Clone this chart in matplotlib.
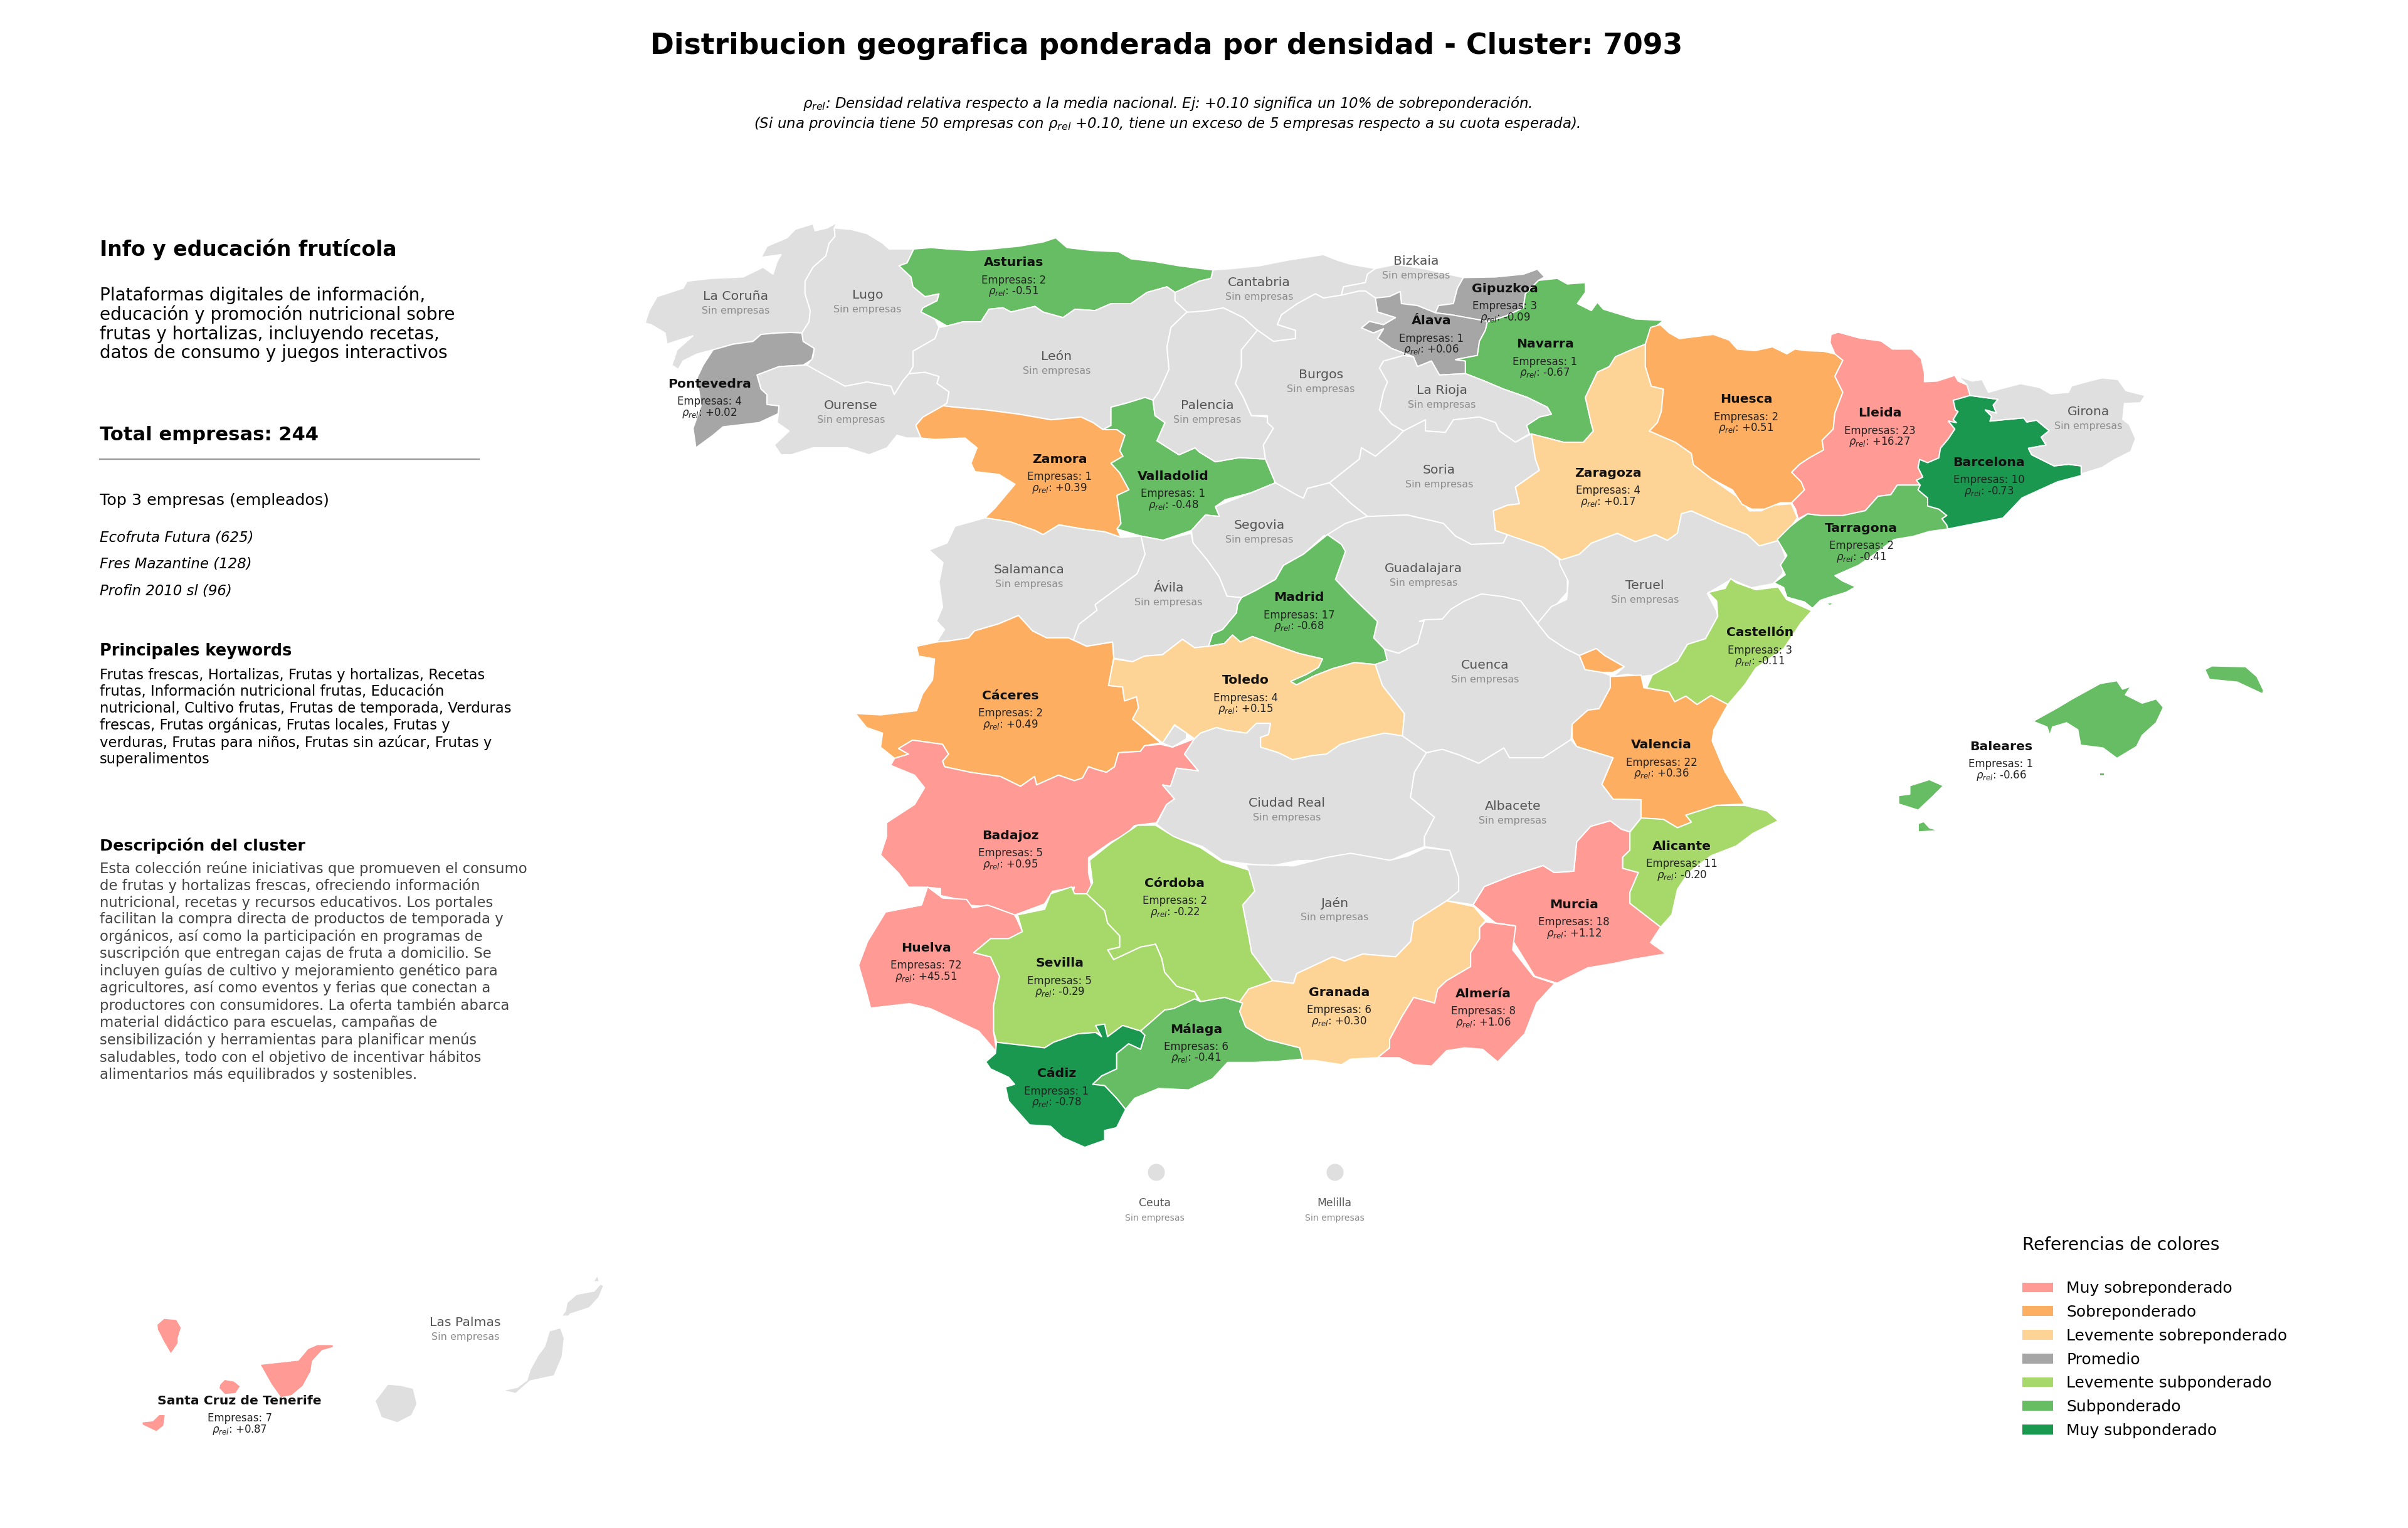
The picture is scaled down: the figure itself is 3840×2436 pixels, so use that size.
import matplotlib
matplotlib.use('Agg')
import matplotlib.pyplot as plt
from matplotlib.patches import Patch, Ellipse

plt.rcParams['font.family'] = ['DejaVu Sans']
plt.rcParams['mathtext.fontset'] = 'dejavusans'

TITLE = 'Distribucion geografica ponderada por densidad - Cluster: 7093'
SUBTITLE = (r'$\rho_{rel}$: Densidad relativa respecto a la media nacional. Ej: +0.10 significa un 10% de sobreponderación.' + '\n'
            r'(Si una provincia tiene 50 empresas con $\rho_{rel}$ +0.10, tiene un exceso de 5 empresas respecto a su cuota esperada).')

CATEGORY_LABELS = ['Muy sobreponderado', 'Sobreponderado', 'Levemente sobreponderado', 'Promedio',
                   'Levemente subponderado', 'Subponderado', 'Muy subponderado']
CATEGORY_COLORS = ['#FF9A94', '#FDAE61', '#FED496', '#A6A6A6', '#A6D96A', '#66BD63', '#1A9850']
EMPTY_COLOR = '#DFDFDF'

# name: (empresas, rho, category index)
PROVINCE_DATA = {
    'Asturias': (2, -0.51, 5), 'Pontevedra': (4, 0.02, 3), 'Zamora': (1, 0.39, 1), 'Valladolid': (1, -0.48, 5),
    'Gipuzkoa': (3, -0.09, 3), 'Álava': (1, 0.06, 3), 'Navarra': (1, -0.67, 5), 'Huesca': (2, 0.51, 1),
    'Lleida': (23, 16.27, 0), 'Barcelona': (10, -0.73, 6), 'Zaragoza': (4, 0.17, 2), 'Tarragona': (2, -0.41, 5),
    'Castellón': (3, -0.11, 4), 'Madrid': (17, -0.68, 5), 'Cáceres': (2, 0.49, 1), 'Toledo': (4, 0.15, 2),
    'Valencia': (22, 0.36, 1), 'Baleares': (1, -0.66, 5), 'Badajoz': (5, 0.95, 0), 'Alicante': (11, -0.20, 4),
    'Córdoba': (2, -0.22, 4), 'Murcia': (18, 1.12, 0), 'Huelva': (72, 45.51, 0), 'Sevilla': (5, -0.29, 4),
    'Granada': (6, 0.30, 2), 'Almería': (8, 1.06, 0), 'Málaga': (6, -0.41, 5), 'Cádiz': (1, -0.78, 6),
    'Santa Cruz de Tenerife': (7, 0.87, 0),
}
EMPTY_PROVINCES = ['La Coruña', 'Lugo', 'Ourense', 'León', 'Cantabria', 'Bizkaia', 'Palencia', 'Burgos', 'La Rioja',
                   'Soria', 'Segovia', 'Salamanca', 'Ávila', 'Guadalajara', 'Teruel', 'Cuenca', 'Ciudad Real',
                   'Albacete', 'Jaén', 'Girona', 'Las Palmas', 'Ceuta', 'Melilla']

# label anchors, measured on a 1568-wide view of the picture
LABEL_POS = {
    'Asturias': (660, 171), 'Pontevedra': (462, 250), 'Zamora': (690, 299), 'Valladolid': (764, 310),
    'Gipuzkoa': (980, 188), 'Álava': (932, 209), 'Navarra': (1006, 224), 'Huesca': (1137, 260),
    'Lleida': (1224, 269), 'Barcelona': (1295, 301), 'Zaragoza': (1047, 308), 'Tarragona': (1212, 344),
    'Castellón': (1146, 412), 'Madrid': (846, 389), 'Cáceres': (658, 453), 'Toledo': (811, 443),
    'Valencia': (1082, 485), 'Baleares': (1303, 486), 'Badajoz': (658, 544), 'Alicante': (1095, 551),
    'Córdoba': (765, 575), 'Murcia': (1025, 589), 'Huelva': (603, 617), 'Sevilla': (690, 627),
    'Granada': (872, 646), 'Almería': (966, 647), 'Málaga': (779, 670), 'Cádiz': (688, 699),
    'Santa Cruz de Tenerife': (156, 912),
    'La Coruña': (479, 193), 'Lugo': (565, 192), 'Cantabria': (820, 184), 'Bizkaia': (922, 170),
    'León': (688, 232), 'Palencia': (786, 264), 'Burgos': (860, 244), 'La Rioja': (939, 254),
    'Ourense': (554, 264), 'Soria': (937, 306), 'Girona': (1360, 268), 'Segovia': (820, 342),
    'Salamanca': (670, 371), 'Guadalajara': (927, 370), 'Ávila': (761, 383), 'Teruel': (1071, 381),
    'Cuenca': (967, 433), 'Ciudad Real': (838, 523), 'Albacete': (985, 525), 'Jaén': (869, 588),
    'Ceuta': (752, 783), 'Melilla': (869, 783), 'Las Palmas': (303, 861),
}

# outline tracing views: origin x, origin y, x scale, y scale
VIEWS = {'A': (1000, 330, 1.568, 2.24), 'B': (1900, 330, 1.568, 2.24), 'C': (1350, 950, 1.568, 2.24),
         'D': (2300, 900, 1.12, 2.24), 'E': (1350, 1300, 1.045, 2.24), 'F': (200, 2000, 1.96, 3.0),
         'G': (2750, 480, 1.96, 1.96)}

OUTLINES = {
 'La Coruña': [[('A', [(525,55),(518,75),(520,105),(505,130),(497,175),(465,215),(445,265),(445,310),(458,370),(455,410),(437,450),(410,448),(375,450),(335,455),(315,480),(265,490),(215,510),(175,525),(140,550),(128,580),(112,565),(125,510),(165,460),(120,480),(100,490),(95,450),(60,420),(45,415),(55,370),(75,320),(140,290),(150,265),(210,255),(290,250),(340,215),(365,240),(375,195),(385,170),(335,180),(350,140),(400,110),(420,80),(465,60),(470,85),(500,75)])]],
 'Lugo': [[('A', [(518,75),(560,80),(600,95),(640,130),(655,150),(717,150),(700,200),(680,210),(710,250),(715,285),(745,320),(780,310),(775,335),(740,360),(735,375),(770,400),(780,430),(770,470),(715,515),(715,570),(705,595),(690,620),(668,670),(660,640),(600,625),(545,640),(500,605),(455,585),(450,565),(465,535),(468,505),(440,480),(437,450),(455,410),(458,370),(445,310),(445,265),(465,215),(497,175),(505,130),(520,105)])]],
 'Pontevedra': [[('A', [(437,450),(440,480),(468,505),(462,545),(440,565),(380,570),(325,600),(335,650),(350,670),(350,705),(380,710),(378,738),(330,770),(240,785),(215,815),(172,860),(165,790),(185,710),(175,610),(190,565),(215,510),(265,490),(315,480),(335,455),(375,450),(410,448)])]],
 'Ourense': [[('A', [(450,565),(500,605),(545,640),(600,625),(660,640),(668,670),(690,620),(705,595),(745,590),(780,605),(775,630),(805,660),(800,700),(790,710),(740,750),(722,780),(735,825),(700,825),(675,815),(650,860),(605,885),(550,860),(465,860),(410,885),(385,885),(368,850),(405,800),(375,770),(378,738),(380,710),(350,705),(350,670),(335,650),(325,600),(380,570),(440,565)])]],
 'Asturias': [[('A', [(717,150),(760,145),(800,150),(860,155),(910,150),(980,140),(1040,125),(1072,110),(1100,145),(1160,155),(1230,160),(1260,185),(1320,195),(1380,210),(1465,225),(1460,255),(1430,265),(1400,295),(1370,305),(1350,285),(1300,305),(1260,345),(1210,345),(1170,370),(1120,365),(1090,395),(1040,375),(1020,355),(960,375),(940,360),(905,365),(885,410),(840,410),(800,425),(770,400),(735,375),(740,360),(775,335),(780,310),(745,320),(715,285),(710,250),(680,210),(700,200)])]],
 'León': [[('A', [(800,425),(840,410),(885,410),(905,365),(940,360),(960,375),(1020,355),(1040,375),(1090,395),(1120,365),(1170,370),(1210,345),(1260,345),(1300,305),(1350,285),(1370,305),(1370,335),(1400,375),(1360,430),(1350,500),(1355,580),(1330,660),(1315,690),(1295,680),(1250,700),(1210,715),(1210,780),(1190,795),(1165,770),(1135,750),(1060,760),(980,740),(900,725),(820,715),(790,710),(800,700),(805,660),(775,630),(780,605),(745,590),(705,595),(715,570),(715,515),(770,470),(780,430)])]],
 'Zamora': [[('A', [(790,710),(820,715),(900,725),(980,740),(1060,760),(1135,750),(1165,770),(1190,795),(1225,795),(1245,815),(1232,870),(1240,890),(1210,915),(1232,950),(1255,1010),(1225,1030),(1235,1130),(1225,1150),(1235,1180),(1195,1160),(1140,1150),(1080,1135),(1040,1170),(1020,1155),(960,1125),(895,1110),(920,1075),(970,990),(930,955),(870,945),(860,915),(875,860),(845,825),(770,830),(735,825),(722,780),(740,750)])]],
 'Valladolid': [[('A', [(1210,715),(1250,700),(1295,680),(1315,690),(1320,745),(1345,770),(1325,835),(1380,885),(1420,860),(1431,875),(1471,910),(1531,895),(1596,900),(1621,985),(1561,1020),(1496,1045),(1471,1070),(1481,1105),(1446,1100),(1411,1155),(1340,1190),(1285,1175),(1225,1150),(1235,1130),(1225,1030),(1255,1010),(1232,950),(1210,915),(1240,890),(1232,870),(1245,815),(1225,795),(1190,795),(1210,780)])]],
 'Palencia': [[('A', [(1400,375),(1451,370),(1491,360),(1541,395),(1576,440),(1561,490),(1536,510),(1536,570),(1521,630),(1541,680),(1561,745),(1601,750),(1616,790),(1591,850),(1596,900),(1531,895),(1471,910),(1431,875),(1420,860),(1380,885),(1325,835),(1345,770),(1320,745),(1315,690),(1330,660),(1355,580),(1350,500),(1360,430)])]],
 'Cantabria': [[('B', [(54,225),(100,220),(170,210),(240,190),(330,170),(365,190),(400,205),(460,220),(440,240),(435,270),(380,285),(375,315),(330,325),(310,310),(265,345),(225,385),(215,420),(260,440),(260,470),(205,480),(165,440),(130,395),(80,360),(40,370),(0,375),(-11,375),(-41,335),(-41,305),(-11,285),(19,265),(49,255)])]],
 'Bizkaia': [[('B', [(440,240),(460,220),(510,205),(580,220),(680,252),(665,290),(655,345),(618,352),(610,378),(565,352),(525,345),(522,302),(495,320),(460,325),(435,300),(420,300),(375,315),(380,285),(435,270)])]],
 'Gipuzkoa': [[('B', [(680,252),(760,250),(830,240),(865,222),(883,250),(868,262),(835,310),(830,360),(785,390),(740,410),(650,385),(610,378),(618,352),(655,345),(665,290)])]],
 'Álava': [[('B', [(460,325),(495,320),(522,302),(525,345),(565,352),(610,378),(650,385),(740,408),(735,440),(720,480),(715,530),(660,545),(685,550),(685,595),(620,600),(600,550),(565,570),(555,535),(500,505),(465,470),(480,435),(455,450),(425,432),(445,408),(480,420),(510,395),(465,375)])]],
 'Navarra': [[('B', [(868,262),(915,255),(940,275),(985,270),(985,305),(965,345),(1000,370),(1015,340),(1030,365),(1110,400),(1180,405),(1150,440),(1135,490),(1100,510),(1060,535),(1045,570),(1015,590),(985,680),(1000,775),(1005,800),(980,840),(930,840),(890,825),(845,810),(838,780),(870,750),(900,740),(890,715),(840,680),(780,650),(730,620),(685,595),(685,550),(660,545),(715,530),(720,480),(735,440),(740,410),(785,390),(830,360),(835,310)])]],
 'La Rioja': [[('B', [(480,550),(530,530),(555,535),(565,570),(600,550),(620,600),(685,595),(730,620),(780,650),(840,680),(890,715),(900,740),(870,750),(838,780),(845,810),(810,840),(770,800),(760,770),(720,750),(655,760),(635,805),(585,800),(585,760),(530,800),(500,775),(470,725),(480,660),(490,625),(470,575)])]],
 'Burgos': [[('B', [(125,510),(165,440),(205,480),(260,470),(260,440),(215,420),(225,385),(265,345),(310,310),(330,325),(375,315),(420,300),(435,300),(460,325),(465,375),(510,395),(480,420),(445,408),(425,432),(455,450),(480,435),(465,470),(500,505),(555,535),(530,530),(480,550),(470,575),(490,625),(480,660),(470,725),(500,775),(530,800),(510,830),(460,890),(425,860),(420,900),(345,985),(290,1005),(280,1040),(265,1030),(210,985),(185,900),(180,850),(205,790),(190,770),(190,745),(150,745),(130,680),(110,630),(125,570)])]],
 'Soria': [[('B', [(530,800),(585,760),(585,800),(635,805),(655,760),(720,750),(760,770),(770,800),(810,840),(850,810),(860,900),(870,940),(810,1000),(820,1060),(790,1065),(755,1085),(760,1155),(790,1170),(780,1200),(700,1205),(660,1175),(630,1130),(540,1100),(440,1105),(400,1060),(345,985),(420,900),(425,860),(460,890),(510,830)])]],
 'Segovia': [[('B', [(0,1155),(35,1100),(70,1105),(60,1070),(150,1020),(210,985),(265,1030),(280,1040),(290,1005),(345,985),(400,1060),(440,1105),(385,1130),(350,1170),(330,1175),(280,1240),(230,1280),(210,1330),(160,1370),(125,1395),(89,1390),(69,1320),(39,1260),(4,1200)])]],
 'Guadalajara': [[('B', [(440,1105),(540,1100),(630,1130),(660,1175),(700,1205),(780,1200),(790,1170),(880,1210),(920,1260),(940,1320),(940,1375),(870,1490),(830,1430),(780,1400),(720,1390),(680,1420),(650,1440),(640,1470),(570,1480)]),('C', [(1445,85),(1428,170),(1380,205),(1345,190),(1318,150)]),('B', [(465,1480),(400,1390),(360,1330),(370,1290),(385,1230),(375,1205),(340,1170),(385,1130)])]],
 'Madrid': [[('B', [(340,1170),(375,1205),(385,1230),(370,1290),(360,1330),(400,1390),(465,1480)]),('C', [(1318,150),(1345,190),(1352,230),(1322,245),(1270,238),(1215,260),(1170,285),(1125,318),(1110,305),(1150,280),(1180,255),(1190,225),(1130,205),(1080,180),(1015,145),(985,165),(965,140),(945,170),(905,180),(915,135),(940,120),(975,60)]),('B', [(115,1420),(125,1395),(160,1370),(210,1330),(230,1280),(280,1240)])]],
 'Ávila': [[('A', [(1285,1175),(1295,1240),(1275,1310),(1170,1420),(1175,1440),(1130,1490),(1115,1550)]),('C', [(555,150),(600,180),(665,165),(668,222),(715,235),(745,215),(790,210),(840,155),(870,185),(905,180),(915,135),(940,120),(975,60)]),('B', [(115,1420),(125,1395),(89,1390),(69,1320),(39,1260),(4,1200),(-1,1165)]),('A', [(1340,1190)])]],
 'Salamanca': [[('A', [(895,1110),(960,1125),(1020,1155),(1040,1170),(1080,1135),(1140,1150),(1195,1160),(1235,1180),(1285,1175),(1295,1240),(1275,1310),(1170,1420),(1175,1440),(1130,1490),(1115,1550)]),('C', [(555,150),(500,150),(465,125),(430,70),(380,100),(320,125),(305,150),(260,160),(225,165),(245,120),(225,90),(240,40)]),('A', [(780,1340),(790,1270),(755,1225),(800,1200),(820,1140)])]],
 'Cáceres': [[('C', [(225,165),(260,160),(305,150),(320,125),(380,100),(430,70),(465,125),(500,150),(555,150),(600,180),(665,165),(668,222),(655,320),(690,325),(695,375),(725,360),(730,400),(715,440),(785,525),(745,535),(735,555),(680,560),(670,610),(650,630),(625,620),(605,610),(590,650),(570,660),(530,640),(475,675),(470,645),(435,680),(385,645),(310,630),(245,610),(240,590),(255,565),(240,530),(165,515),(130,545),(155,565),(120,580),(85,540),(90,490),(50,470),(22,420),(85,425),(175,410),(190,350),(215,300),(220,225),(180,215),(175,180)])]],
 'Toledo': [[('C', [(668,225),(715,235),(745,215),(790,210),(840,155),(870,185),(905,180),(945,170),(965,140),(985,165),(1015,145),(1080,180),(1130,205),(1190,225),(1180,255),(1150,280),(1110,305),(1125,318),(1170,285),(1215,260),(1270,238),(1322,245),(1340,320),(1395,420),(1390,500),(1345,490),(1285,510),(1235,530),(1200,565),(1165,570),(1115,585),(1080,560),(1035,540),(1035,505),(1055,495),(1060,455),(1025,455),(1000,490),(950,480),(925,470),(885,490),(870,510),(850,490),(820,460),(790,525),(715,440),(730,400),(725,360),(695,375),(690,325),(655,320)])]],
 'Badajoz': [[('C', [(120,580),(155,565),(130,545),(165,515),(240,530),(255,565),(240,590),(245,610),(310,630),(385,645),(435,680),(470,645),(475,675),(530,640),(570,660),(590,650),(605,610),(625,620),(650,630),(670,610),(680,560),(735,555),(745,535),(785,530),(815,540),(870,510),(845,565),(880,625),(825,615),(810,680),(790,675),(820,725),(800,745),(775,810),(720,820),(700,850),(660,880),(605,935),(605,990),(615,1050),(580,1085),(558,1085),(570,1040),(515,1055),(495,1100),(420,1140),(365,1110),(305,1105),(285,1085),(235,1070),(235,1045),(195,1040),(155,1040),(130,990),(85,925),(100,860),(100,810),(170,745),(195,685),(170,640),(110,605)])]],
 'Ciudad Real': [[('C', [(870,510),(885,490),(925,470),(950,480),(1000,490),(1025,455),(1060,455),(1055,495),(1035,505),(1035,540),(1080,560),(1115,585),(1165,570),(1200,565),(1235,530),(1285,510),(1345,490),(1390,500),(1450,560),(1420,630),(1410,720),(1470,790),(1445,860),(1445,895),(1400,920),(1360,945),(1310,935),(1260,930),(1205,945),(1130,945),(1060,965),(990,955),(940,945),(890,895),(815,860),(775,815),(800,745),(820,725),(790,675),(810,680),(825,615),(880,625),(845,565)])],
                 [('C', [(820,462),(850,490),(850,510),(815,540),(790,525)])]],
 'Cuenca': [[('D', [(0,195),(15,160),(40,130),(70,105),(110,115),(140,130),(170,210),(190,260),(220,300),(245,325),(255,375),(285,385),(305,400),(300,440),(280,515),(260,520),(232,570),(230,625),(180,690),(120,690),(110,655),(65,710),(30,680),(0,660)]),('C', [(1450,560),(1390,500),(1395,420),(1340,320),(1322,245),(1352,230),(1345,190),(1380,205),(1428,170),(1445,85)])]],
 'Teruel': [[('B', [(920,1260),(970,1240),(1000,1200),(1065,1165),(1110,1195),(1160,1170),(1190,1190),(1215,1165),(1225,1095),(1250,1085),(1320,1130),(1390,1170),(1420,1210),(1470,1190),(1485,1250),(1478,1310),(1455,1345),(1400,1360),(1350,1330),(1290,1380),(1312,1440)]),('D', [(492,185),(470,265),(438,285),(420,345),(375,395),(355,400),(330,392),(305,400),(325,365),(290,325),(275,300),(245,325),(220,300),(190,260),(170,210),(195,150),(222,125),(225,60),(210,0)])]],
 'Zaragoza': [[('B', [(850,810),(890,825),(930,840),(980,840),(1005,800),(1000,775),(985,680),(1015,590),(1045,570),(1060,535),(1100,510),(1135,490),(1135,570),(1150,640),(1180,650),(1175,730),(1165,770),(1145,800),(1210,840),(1250,880),(1255,920),(1300,970),(1370,1040),(1395,1085),(1425,1085),(1450,1065),(1500,1060),(1515,1110),(1490,1160),(1470,1190),(1420,1210),(1390,1170),(1320,1130),(1250,1085),(1225,1095),(1215,1165),(1190,1190),(1160,1170),(1110,1195),(1065,1165),(1000,1200),(970,1240),(925,1260),(880,1215),(790,1170),(760,1155),(755,1085),(790,1065),(820,1060),(810,1000),(870,940),(860,900)])]],
 'Huesca': [[('B', [(1135,490),(1148,430),(1172,420),(1195,450),(1220,470),(1305,455)]),('G', [(15,122),(40,150),(95,155),(150,143),(195,165),(220,150),(255,155),(310,157),(345,165),(370,185),(345,235),(370,285),(345,350),(340,400),(305,435),(310,465),(265,490),(235,510),(210,535),(240,565),(250,590),(210,630),(175,630),(125,650),(85,650),(55,635),(25,590)]),('B', [(1300,970),(1255,920),(1250,880),(1210,840),(1145,800),(1165,770),(1175,730),(1180,650),(1150,640),(1135,570)])]],
 'Lleida': [[('G', [(333,105),(355,97),(420,115),(490,125),(525,150),(585,150),(615,180),(625,225),(625,252),(665,250),(720,232),(730,250),(758,262),(768,295),(715,310),(722,340),(730,345),(715,370),(725,380),(700,375),(720,400),(700,430),(675,460),(670,490),(635,505),(610,495),(605,520),(620,550),(600,560),(612,575),(540,575),(520,605),(480,610),(440,655),(370,670),(300,670),(260,665),(230,680),(222,650),(210,630),(250,590),(240,565),(210,535),(235,510),(265,490),(310,465),(305,435),(340,400),(345,350),(370,285),(345,235),(370,185),(345,165),(330,130)])]],
 'Tarragona': [[('G', [(230,685),(260,665),(300,670),(370,670),(440,655),(480,610),(520,605),(540,575),(612,575),(605,590),(635,615),(635,640),(670,650),(695,670),(680,680),(695,700),(698,712),(640,720),(590,735),(530,745),(470,790),(420,825),(345,858),(370,875),(410,893),(380,910),(330,925),(300,935),(275,960),(250,940),(195,925),(185,895),(155,880),(190,855),(175,825),(195,795),(165,745),(205,705)])],
               [('G', [(315,945),(345,941),(330,951)])]],
 'Barcelona': [[('G', [(715,310),(768,295),(855,307),(840,325),(850,350),(815,340),(835,360),(830,375),(880,370),(935,365),(945,378),(975,372),(1015,405),(990,425),(1005,450),(950,460),(960,480),(1030,515),(1075,510),(1115,515),(1115,545),(1040,565),(930,615),(870,678),(698,712),(695,700),(680,680),(695,670),(670,650),(635,640),(635,615),(605,590),(612,575),(600,560),(620,550),(605,520),(610,495),(635,505),(670,490),(675,460),(700,430),(720,400),(700,375),(725,380),(715,370),(730,345),(722,340)])]],
 'Girona': [[('G', [(730,235),(775,250),(805,245),(825,285),(860,275),(925,258),(985,270),(1020,290),(1075,285),(1085,265),(1140,250),(1180,240),(1230,245),(1255,280),(1315,295),(1300,318),(1250,320),(1245,370),(1265,385),(1285,430),(1270,470),(1220,495),(1180,520),(1115,540),(1115,515),(1075,510),(1030,515),(960,480),(950,460),(1005,450),(990,425),(1015,405),(975,372),(945,378),(935,365),(880,370),(830,375),(835,360),(815,340),(850,350),(840,325),(855,307),(768,295),(758,262)])]],
 'Castellón': [[('D', [(515,50),(525,65),(560,90),(600,80),(615,125),(660,165),(640,210),(610,300),(560,370),(540,430),(510,500),(480,468),(455,500),(435,470),(415,490),(405,455),(365,440),(375,395),(420,345),(438,285),(470,265),(492,185),(490,130),(475,100),(505,85)])]],
 'Valencia': [[('D', [(300,400),(355,395),(360,440),(405,455),(415,490),(435,470),(455,500),(480,468),(510,500),(485,590),(482,630),(505,740),(540,855),(490,860),(435,895),(445,920),(420,940),(395,910),(355,905),(355,840),(305,838),(285,785),(305,690),(240,650),(232,620),(232,570),(260,520),(280,515),(300,440)])],
              [('D', [(245,325),(275,300),(290,325),(325,365),(305,385),(285,385),(255,375)])]],
 'Alicante': [[('D', [(540,860),(580,880),(600,915),(555,960),(525,1005),(480,1040),(440,1100),(420,1160),(410,1250),(390,1295),(335,1210),(335,1170),(350,1100),(322,1085),(322,1045),(335,1020),(335,955),(355,905),(395,910),(420,940),(445,920),(435,895),(490,860)])]],
 'Murcia': [[('D', [(300,915),(320,945),(335,955),(335,1020),(322,1045),(322,1085),(350,1100),(335,1170),(335,1210),(390,1295),(372,1350),(400,1390),(340,1410),(305,1425),(260,1440),(205,1495),(165,1470),(125,1340),(130,1290),(95,1280),(55,1215),(75,1150),(125,1110),(180,1075),(200,1100),(235,1095),(240,990),(265,935)])]],
 'Albacete': [[('D', [(0,660),(30,680),(65,710),(110,655),(120,690),(180,690),(230,625),(240,650),(305,690),(285,785),(305,838),(355,840),(355,905),(335,955),(320,945),(300,915),(265,935),(240,990),(235,1095),(200,1100),(180,1075),(125,1110),(75,1150),(55,1215)]),('E', [(1000,305),(1020,270),(1020,220),(1005,125)]),('C', [(1445,895),(1445,860),(1470,790),(1410,720),(1420,630),(1450,560)])]],
 'Jaén': [[('E', [(665,175),(745,180),(800,150),(840,135),(905,160),(935,145),(965,115),(1005,125),(1020,220),(1020,270),(1000,305),(945,380),(940,450),(915,505),(860,495),(830,520),(810,505),(750,565),(745,600),(710,590),(675,490),(670,430),(660,320),(680,270),(670,195)])]],
 'Córdoba': [[('E', [(485,35),(515,35),(545,75),(590,115),(625,165),(670,195),(680,270),(660,320),(670,430),(675,490),(710,590),(670,620),(660,670),(630,650),(590,665),(580,630),(550,610),(530,560),(525,510),(515,460),(490,470),(445,515),(435,480),(455,470),(455,430),(435,385),(430,340),(400,280),(410,240),(405,160),(440,100)])]],
 'Huelva': [[('E', [(135,255),(160,295),(200,300),(210,330),(235,320),(280,355),(285,375),(293,415),(270,440),(240,440),(212,490),(240,505),(255,575),(245,680),(245,770),(250,845),(220,770),(140,690),(105,672),(40,688),(33,630),(20,535),(35,450),(65,345),(125,320)])]],
 'Sevilla': [[('E', [(285,355),(330,335),(340,280),(375,255),(380,280),(400,280),(430,340),(435,385),(455,430),(455,470),(435,480),(445,515),(490,470),(515,460),(525,510),(530,560),(550,610),(580,630),(585,655),(545,690),(530,695),(490,770),(460,750),(435,790),(415,775),(385,780),(345,810),(330,830),(250,810),(245,770),(245,680),(255,575),(240,505),(212,490),(240,440),(270,440),(293,415)])]],
 'Granada': [[('E', [(1000,305),(1045,325),(1065,375),(1055,400),(1055,440),(1040,490),(1040,540),(1000,590),(985,620),(980,670),(945,650),(925,720),(905,800),(905,830),(885,865),(840,870),(825,890),(780,875),(760,875),(755,830),(700,800),(665,755),(650,680),(670,620),(710,590),(745,600),(750,565),(810,505),(830,520),(860,495),(915,505),(940,450),(945,380)])]],
 'Almería': [[('E', [(1065,380),(1115,395),(1110,480),(1145,575),(1180,600),(1150,670),(1130,780),(1085,880),(1060,835),(1030,830),(1000,840),(975,895),(945,890),(920,865),(885,865),(905,830),(905,800),(925,720),(945,650),(980,670),(985,620),(1000,590),(1040,540),(1040,490),(1055,440),(1055,400)])]],
 'Málaga': [[('E', [(580,655),(590,665),(630,650),(660,670),(655,700),(665,755),(700,800),(755,830),(760,870),(720,878),(680,882),(635,882),(610,940),(590,960),(570,980),(520,975),(480,1010),(465,1050),(450,1010),(430,965),(410,960),(425,930),(450,905),(450,850),(470,815),(490,835),(497,785),(490,770),(530,695),(545,690)])]],
 'Cádiz': [[('E', [(250,810),(330,830),(345,810),(385,780),(415,775),(425,790),(415,750),(430,745),(435,790),(460,750),(490,770),(497,785),(490,835),(470,815),(450,850),(450,905),(425,930),(410,960),(430,965),(450,1010),(465,1050),(450,1115),(430,1125),(430,1160),(397,1185),(360,1150),(340,1110),(305,1105),(270,1020),(265,970),(280,960),(270,935),(240,905),(232,880),(248,850)])]],
 'Baleares': [[('D', [(1055,560),(1100,510),(1125,480),(1175,425),(1205,415),(1215,445),(1230,435),(1220,465),(1250,495),(1275,480),(1288,510),(1275,565),(1250,610),(1240,650),(1205,692),(1180,655),(1140,645),(1135,590),(1115,565),(1090,580),(1085,610),(1080,580)])],
              [('D', [(1362,375),(1375,362),(1435,365),(1455,400),(1467,450),(1465,462),(1420,420),(1370,410)])],
              [('D', [(835,790),(870,768),(895,790),(875,830),(850,877),(815,855),(815,825),(835,820)])],
              [('D', [(850,925),(860,918),(870,940),(887,950),(850,955)])],
              [('D', [(1174,743),(1183,743),(1183,754),(1174,754)])]],
 'Santa Cruz de Tenerife': [[('F', [(98,335),(120,305),(160,310),(175,350),(165,400),(165,425),(142,477),(120,420),(100,360)])],
                            [('F', [(295,620),(310,597),(340,605),(360,630),(345,665),(310,670),(292,640)])],
                            [('F', [(420,525),(480,515),(540,505),(570,450),(600,430),(650,430),(650,445),(615,460),(585,510),(580,560),(555,630),(520,675),(485,685),(455,620)])],
                            [('F', [(52,800),(85,795),(105,765),(125,765),(120,820),(97,848),(52,815)])]],
 'Las Palmas': [[('F', [(780,700),(820,620),(860,625),(900,640),(912,715),(895,770),(850,805),(800,780)])],
                [('F', [(1325,365),(1360,350),(1372,400),(1365,490),(1340,580),(1265,605),(1220,665),(1178,650),(1225,635),(1255,600),(1265,550),(1290,480),(1310,440)])],
                [('F', [(1362,295),(1375,270),(1380,230),(1410,190),(1465,175),(1485,140),(1495,150),(1480,205),(1450,255),(1390,285),(1385,295)])],
                [('F', [(1462,130),(1475,100),(1482,130)])]],
}
CITY_DOTS = {'Ceuta': (1844, 1869), 'Melilla': (2129, 1869)}

HEADING = 'Info y educación frutícola'
HEADING_TEXT = ('Plataformas digitales de información,\neducación y promoción nutricional sobre\n'
                'frutas y hortalizas, incluyendo recetas,\ndatos de consumo y juegos interactivos')
TOTAL_TEXT = 'Total empresas: 244'
TOP_TITLE = 'Top 3 empresas (empleados)'
TOP_COMPANIES = ['Ecofruta Futura (625)', 'Fres Mazantine (128)', 'Profin 2010 sl (96)']
KEYWORDS_TITLE = 'Principales keywords'
KEYWORDS = ('Frutas frescas, Hortalizas, Frutas y hortalizas, Recetas\nfrutas, Información nutricional frutas, Educación\n'
            'nutricional, Cultivo frutas, Frutas de temporada, Verduras\nfrescas, Frutas orgánicas, Frutas locales, Frutas y\n'
            'verduras, Frutas para niños, Frutas sin azúcar, Frutas y\nsuperalimentos')
DESC_TITLE = 'Descripción del cluster'
DESCRIPTION = ('Esta colección reúne iniciativas que promueven el consumo\nde frutas y hortalizas frescas, ofreciendo información\n'
               'nutricional, recetas y recursos educativos. Los portales\nfacilitan la compra directa de productos de temporada y\n'
               'orgánicos, así como la participación en programas de\nsuscripción que entregan cajas de fruta a domicilio. Se\n'
               'incluyen guías de cultivo y mejoramiento genético para\nagricultores, así como eventos y ferias que conectan a\n'
               'productores con consumidores. La oferta también abarca\nmaterial didáctico para escuelas, campañas de\n'
               'sensibilización y herramientas para planificar menús\nsaludables, todo con el objetivo de incentivar hábitos\n'
               'alimentarios más equilibrados y sostenibles.')

S = 3840 / 1568


def polygon_xy(segments):
    pts = []
    for view, seg in segments:
        x0, y0, fx, fy = VIEWS[view]
        pts += [(x0 + px / fx, y0 + py / fy) for px, py in seg]
    return pts


fig = plt.figure(figsize=(16, 10.15), dpi=240, facecolor='white')
ax = fig.add_axes([0, 0, 1, 1])
ax.set_xlim(0, 3840)
ax.set_ylim(2436, 0)
ax.axis('off')

for name, polys in OUTLINES.items():
    color = CATEGORY_COLORS[PROVINCE_DATA[name][2]] if name in PROVINCE_DATA else EMPTY_COLOR
    for segs in polys:
        xs, ys = zip(*polygon_xy(segs))
        ax.fill(xs, ys, facecolor=color, edgecolor='white', linewidth=0.6, joinstyle='round', zorder=2)
for name, (cx, cy) in CITY_DOTS.items():
    ax.add_patch(Ellipse((cx, cy), 27, 27, facecolor=EMPTY_COLOR, edgecolor='none', zorder=2))

# province labels
for name, (empresas, rho, _) in PROVINCE_DATA.items():
    lx, ly = LABEL_POS[name]
    lx, ly = lx * S, ly * S
    ax.text(lx, ly, name, ha='center', va='center', fontsize=6.1, fontweight='bold', color='#111111', zorder=5)
    ax.text(lx, ly + 28, f'Empresas: {empresas}', ha='center', va='center', fontsize=5.0, color='#222222', zorder=5)
    ax.text(lx, ly + 46, rf'$\rho_{{rel}}$: {rho:+.2f}', ha='center', va='center', fontsize=5.0, color='#222222', zorder=5)
for name in EMPTY_PROVINCES:
    lx, ly = LABEL_POS[name]
    lx, ly = lx * S, ly * S
    small = name in ('Ceuta', 'Melilla')
    ax.text(lx, ly, name, ha='center', va='center', fontsize=5.2 if small else 6.1, color='#555555', zorder=5)
    ax.text(lx, ly + (24 if small else 23), 'Sin empresas', ha='center', va='center',
            fontsize=4.2 if small else 4.8, color='#8c8c8c', zorder=5)

# titles
ax.text(759.5 * S, 30 * S, TITLE, ha='center', va='center', fontsize=13.7, fontweight='bold', color='black')
ax.text(760 * S, 74 * S, SUBTITLE, ha='center', va='center', fontsize=6.85, fontstyle='italic', color='black', linespacing=1.25)

# left panel
X = 65 * S
ax.text(X, 162.5 * S, HEADING, ha='left', va='center', fontsize=9.9, fontweight='bold')
ax.text(X, 210.7 * S, HEADING_TEXT, ha='left', va='center', fontsize=8.35, linespacing=1.1)
ax.text(X, 283 * S, TOTAL_TEXT, ha='left', va='center', fontsize=9.2, fontweight='bold')
ax.plot([X, 312 * S], [299 * S, 299 * S], color='#999999', linewidth=0.7)
ax.text(X, 326 * S, TOP_TITLE, ha='left', va='center', fontsize=7.6)
for company, yy in zip(TOP_COMPANIES, [350, 367, 384.5]):
    ax.text(X, yy * S, company, ha='left', va='center', fontsize=6.85, fontstyle='italic')
ax.text(X, 424 * S, KEYWORDS_TITLE, ha='left', va='center', fontsize=7.7, fontweight='bold')
ax.text(X, 467 * S, KEYWORDS, ha='left', va='center', fontsize=6.83, linespacing=1.19)
ax.text(X, 550.5 * S, DESC_TITLE, ha='left', va='center', fontsize=7.6, fontweight='bold')
ax.text(X, 632.5 * S, DESCRIPTION, ha='left', va='center', fontsize=6.84, color='#444444', linespacing=1.19)

# legend
handles = [Patch(facecolor=c, edgecolor='none', label=l) for c, l in zip(CATEGORY_COLORS, CATEGORY_LABELS)]
leg = ax.legend(handles=handles, title='Referencias de colores', loc='upper left', frameon=False,
                bbox_to_anchor=(3225, 1971), bbox_transform=ax.transData, borderaxespad=0, borderpad=0,
                fontsize=7.5, title_fontsize=8.35, handlelength=1.96, handleheight=0.6, handletextpad=0.84,
                labelspacing=0.55)
leg._legend_box.align = 'left'
leg._legend_box.sep = 13

fig.savefig('out.png', dpi=240, facecolor='white')
